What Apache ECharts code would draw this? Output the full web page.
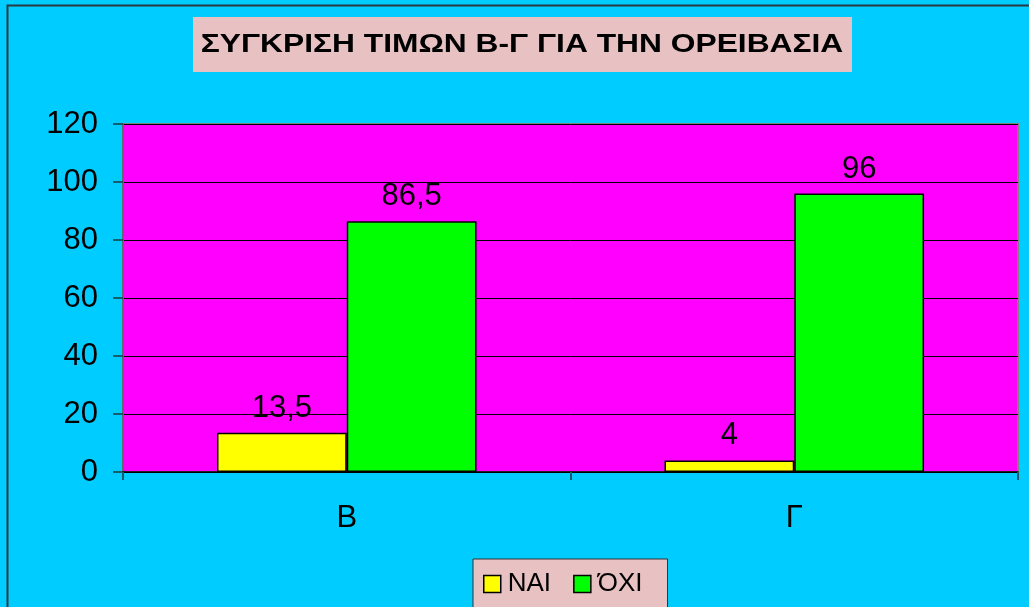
<!DOCTYPE html>
<html>
<head>
<meta charset="utf-8">
<script src="https://cdn.jsdelivr.net/npm/echarts@6/dist/echarts.min.js"></script>
<style>
  html, body { margin: 0; padding: 0; background: #00CCFF; }
  #chart { width: 1029px; height: 607px; }
</style>
</head>
<body>
<div id="chart"></div>
<script>
// Survey answers per class (percent)
const categories = ['Β', 'Γ'];
const seriesNames = ['ΝΑΙ', 'ΌΧΙ'];
const yesValues = [13.5, 4];
const noValues = [86.5, 96];
const yTicks = [0, 20, 40, 60, 80, 100, 120];
const chartTitle = 'ΣΥΓΚΡΙΣΗ ΤΙΜΩΝ Β-Γ ΓΙΑ ΤΗΝ ΟΡΕΙΒΑΣΙΑ';

const font = 'Liberation Sans, Arial, sans-serif';
const fmt = p => String(p.value).replace('.', ',');

const chart = echarts.init(document.getElementById('chart'), null, { renderer: 'canvas' });

const barLabel = {
  show: true,
  position: 'top',
  distance: 9,
  color: '#000',
  fontFamily: font,
  fontSize: 31,
  formatter: fmt
};
const barBorder = { borderColor: '#000', borderWidth: 1.5 };

chart.setOption({
  backgroundColor: '#00CCFF',
  animation: false,
  graphic: [
    // outer frame
    { type: 'rect', shape: { x: 7.5, y: 5.5, width: 1040, height: 620 },
      style: { fill: 'none', stroke: '#2a3a40', lineWidth: 2 }, z: 100, silent: true },
    // title box
    { type: 'rect', shape: { x: 193, y: 17, width: 659, height: 55 },
      style: { fill: '#E8C1C3' }, z: 10, silent: true },
    { type: 'text', x: 522, y: 45, scaleX: 1.27, scaleY: 1, z: 11, silent: true,
      style: { text: chartTitle, fill: '#000', align: 'center', verticalAlign: 'middle',
               font: 'bold 25px ' + font } }
  ],
  legend: {
    top: 559,
    left: 473,
    backgroundColor: '#E8C1C3',
    borderColor: '#333',
    borderWidth: 1,
    padding: [12, 25, 20, 10],
    itemGap: 22,
    itemWidth: 17,
    itemHeight: 17,
    icon: 'rect',
    textStyle: { fontFamily: font, fontSize: 26, color: '#000', padding: [0, 0, 0, 2] },
    data: seriesNames.map(n => ({ name: n, itemStyle: { borderColor: '#000', borderWidth: 1.5 } }))
  },
  grid: { left: 123, right: 11, top: 124, bottom: 135, show: true,
          backgroundColor: '#FF00FF', borderColor: '#808080', borderWidth: 2 },
  xAxis: {
    type: 'category',
    data: categories,
    axisLine: { lineStyle: { color: '#000', width: 1.5 } },
    axisTick: { show: true, length: 8, alignWithLabel: false, lineStyle: { color: '#1a5a6a', width: 2 } },
    axisLabel: { color: '#000', fontFamily: font, fontSize: 31, margin: 31 }
  },
  yAxis: {
    type: 'value',
    min: yTicks[0],
    max: yTicks[yTicks.length - 1],
    interval: 20,
    axisLine: { show: true, lineStyle: { color: '#5a6a70', width: 2 } },
    axisTick: { show: true, length: 10, lineStyle: { color: '#1a3a40', width: 1.5 } },
    splitLine: { lineStyle: { color: '#000', width: 1 } },
    axisLabel: { color: '#000', fontFamily: font, fontSize: 31, margin: 25 }
  },
  series: [
    { name: seriesNames[0], type: 'bar', data: yesValues, barGap: '0%', barCategoryGap: '42%',
      itemStyle: Object.assign({ color: '#FFFF00' }, barBorder), label: barLabel },
    { name: seriesNames[1], type: 'bar', data: noValues,
      itemStyle: Object.assign({ color: '#00FF00' }, barBorder), label: barLabel }
  ]
});
</script>
</body>
</html>
